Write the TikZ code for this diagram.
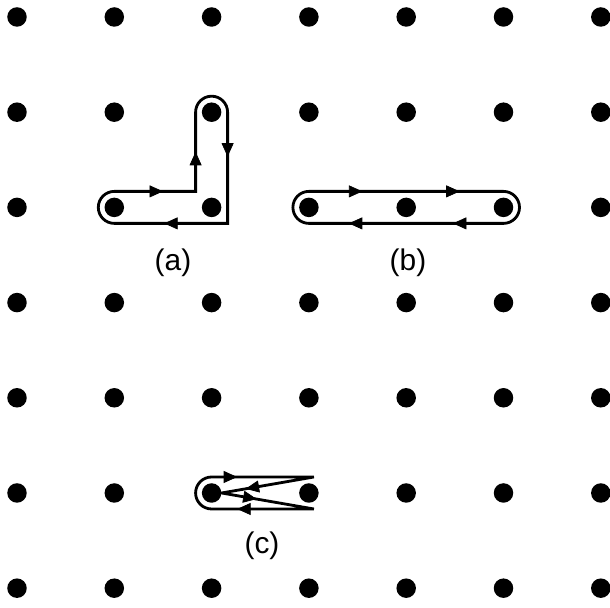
\documentclass[tikz,border=0pt]{standalone}
\usepackage{fontspec}
\setmainfont{Liberation Sans}
\usepackage{tikz}
\usetikzlibrary{arrows.meta, calc, decorations.markings}

\begin{document}
\begin{tikzpicture}[
    dot/.style={circle, fill=black, inner sep=0pt, minimum size=0.39cm},
    loopline/.style={line width=1.6pt, line join=miter},
    flow/.style={postaction={decorate}, decoration={markings,
        mark=at position #1 with {\arrow{Triangle[length=0.27cm, width=0.24cm]}}}},
    tag/.style={font=\fontsize{17}{20}\selectfont},
]
\useasboundingbox (0,0) rectangle (12.2,12.16);
\def\R{0.32}

% Dots
\foreach \c in {0,...,6}
  \foreach \r in {0,...,6}
    \node[dot] (p-\c-\r) at ({0.34+1.946*\c},{11.82-1.904*\r}) {};

% Loop (a)
\draw[loopline] ($(p-1-2)+(0,-\R)$) arc[start angle=270, end angle=90, radius=\R]
    -- ($(p-2-2)+(-\R,\R)$) -- ($(p-2-1)+(-\R,0)$)
    arc[start angle=180, end angle=0, radius=\R]
    -- ($(p-2-2)+(\R,-\R)$) -- cycle;
\path[flow=0.6] ($(p-1-2)+(0,\R)$) -- ($(p-2-2)+(-\R,\R)$);
\path[flow=0.5] ($(p-2-2)+(-\R,\R)$) -- ($(p-2-1)+(-\R,0)$);
\path[flow=0.4] ($(p-2-1)+(\R,0)$) -- ($(p-2-2)+(\R,-\R)$);
\path[flow=0.56] ($(p-2-2)+(\R,-\R)$) -- ($(p-1-2)+(0,-\R)$);
\node[tag] (lab-a) at (3.46,6.9) {(a)};

% Loop (b)
\draw[loopline] ($(p-3-2)+(0,-\R)$) arc[start angle=270, end angle=90, radius=\R]
    -- ($(p-5-2)+(0,\R)$) arc[start angle=90, end angle=-90, radius=\R] -- cycle;
\path[flow=0.55] ($(p-3-2)+(0,\R)$) -- ($(p-4-2)+(0,\R)$);
\path[flow=0.55] ($(p-4-2)+(0,\R)$) -- ($(p-5-2)+(0,\R)$);
\path[flow=0.52] ($(p-5-2)+(0,-\R)$) -- ($(p-4-2)+(0,-\R)$);
\path[flow=0.59] ($(p-4-2)+(0,-\R)$) -- ($(p-3-2)+(0,-\R)$);
\node[tag] (lab-b) at (8.16,6.9) {(b)};

% Loop (c)
\coordinate (c-top) at ($(p-3-5)+(0.1,\R)$);
\coordinate (c-bot) at ($(p-3-5)+(0.1,-\R)$);
\coordinate (c-mid) at ($(p-2-5)+(0.2,0)$);
\draw[loopline] (c-bot) -- ($(p-2-5)+(0,-\R)$) arc[start angle=270, end angle=90, radius=\R]
    -- (c-top) -- (c-mid) -- cycle;
\path[flow=0.25] ($(p-2-5)+(0,\R)$) -- (c-top);
\path[flow=0.74] (c-top) -- (c-mid);
\path[flow=0.38] (c-mid) -- (c-bot);
\path[flow=0.75] (c-bot) -- ($(p-2-5)+(0,-\R)$);
\node[tag] (lab-c) at (5.24,1.24) {(c)};

\end{tikzpicture}
\end{document}
